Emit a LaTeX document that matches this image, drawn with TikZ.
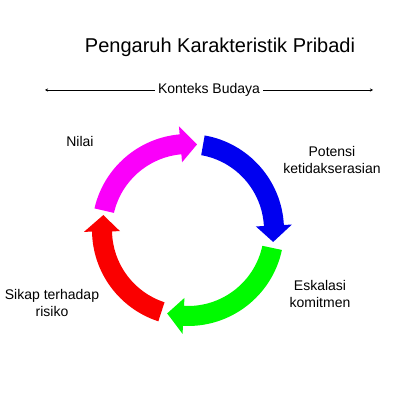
\documentclass[tikz,border=0pt]{standalone}
\usepackage{fontspec}
\setmainfont{Liberation Sans}
\usetikzlibrary{arrows.meta}
\definecolor{biru}{RGB}{0,0,240}
\definecolor{hijau}{RGB}{0,250,0}
\definecolor{merah}{RGB}{250,0,0}
\definecolor{ungu}{RGB}{250,0,250}

% panah melingkar: warna, sudut awal, sudut ujung
\newcommand{\panahsiklus}[3]{%
    \pgfmathsetmacro{\pangkal}{#3+11}
    \fill[#1] (#2:96pt) arc[start angle=#2, end angle=\pangkal, radius=96pt]
        -- (\pangkal:104pt) -- (#3:86pt) -- (\pangkal:68pt) -- (\pangkal:76pt)
        arc[start angle=\pangkal, end angle=#2, radius=76pt] -- cycle;
}

\begin{document}
\begin{tikzpicture}[x=1pt, y=1pt, >={Stealth[length=3pt,width=3pt]},
    label/.style={align=center, font=\fontsize{14}{17}\selectfont}]

    \useasboundingbox (0,0) rectangle (420,420);

    % Judul
    \node[font=\fontsize{20}{24}\selectfont] (judul) at (220,373) {Pengaruh Karakteristik Pribadi};

    % Konteks
    \node[label, inner sep=3pt] (konteks) at (209,330) {Konteks Budaya};
    \coordinate (kiri) at (45,330);
    \coordinate (kanan) at (373,330);
    \draw[->, line width=0.8pt] (konteks.west) -- (kiri);
    \draw[->, line width=0.8pt] (konteks.east) -- (kanan);

    % Siklus
    \begin{scope}[shift={(188,190)}]
        \panahsiklus{biru}{80}{-8}
        \panahsiklus{hijau}{-12}{-104}
        \panahsiklus{merah}{-108}{-190}
        \panahsiklus{ungu}{167}{84}
    \end{scope}

    % Label
    \node[label] (nilai) at (80,278) {Nilai};
    \node[label] (potensi) at (332,260) {Potensi\\ketidakserasian};
    \node[label] (eskalasi) at (320,126) {Eskalasi\\komitmen};
    \node[label] (sikap) at (52,117) {Sikap terhadap\\risiko};

\end{tikzpicture}
\end{document}
